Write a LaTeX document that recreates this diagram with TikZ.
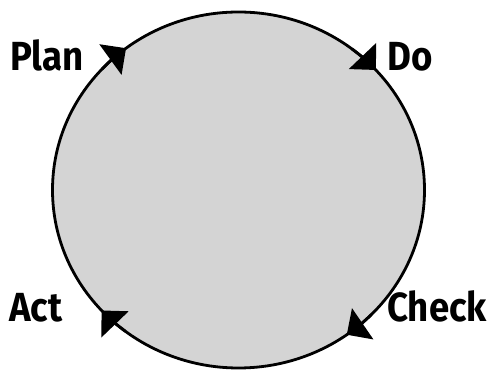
\documentclass[tikz,border=0pt]{standalone}
\usepackage{fontspec}
\newfontfamily\labelfont[FakeStretch=0.9]{Fira Sans}
\usepackage{tikz}
\usetikzlibrary{arrows.meta}
\definecolor{cyclefill}{RGB}{212,212,212}

\begin{document}
\begin{tikzpicture}[x=0.75pt, y=0.75pt,
  lbl/.style={font=\labelfont\bfseries\fontsize{30.5}{36}\selectfont, inner sep=0pt},
  cyc/.style={line width=2.1pt, draw=black},
  tip/.style={cyc, -{Triangle[length=14.5pt, width=28pt]}}]

\useasboundingbox (0,0) rectangle (492,370);

% ---- The cycle ----
\coordinate (c) at (238.5,180);
\draw[cyc, fill=cyclefill] (c) ellipse [x radius=186, y radius=178];

% ---- Clockwise arrow heads on the rim ----
\foreach \a in {127.2, 42.4, -54.4, -137.4}
  \draw[tip] (c) ++(\a+10:186 and 178)
    arc[start angle=\a+10, end angle=\a, x radius=186, y radius=178];

% ---- Labels ----
\node[lbl, anchor=base west] (plan)  at (10,299) {Plan};
\node[lbl, anchor=base west] (do)    at (387,299) {Do};
\node[lbl, anchor=base west] (check) at (387,48) {Check};
\node[lbl, anchor=base west] (act)   at (9,48) {Act};

\end{tikzpicture}
\end{document}
